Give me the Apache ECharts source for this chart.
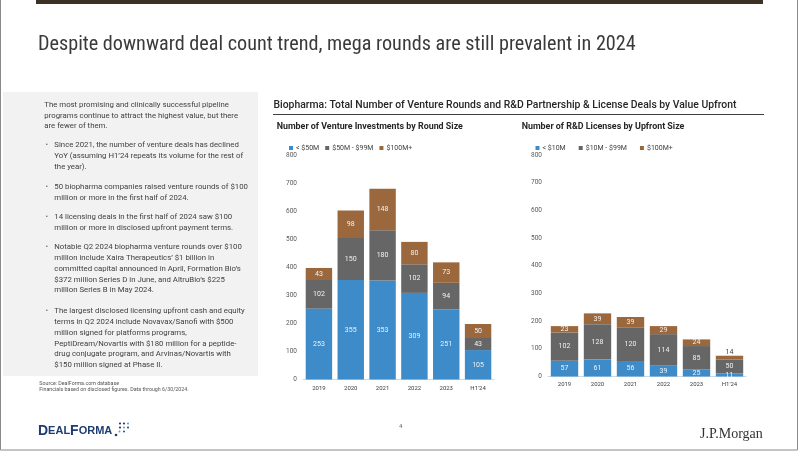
<!DOCTYPE html>
<html><head><meta charset="utf-8">
<script src="https://cdn.jsdelivr.net/npm/echarts@6/dist/echarts.min.js"></script>
<style>html,body{margin:0;padding:0;background:#fff;}#c{width:802px;height:452px;}</style>
</head><body><div id="c"></div>
<script>
// ---- data ----
const years = ['2019', '2020', '2021', '2022', '2023', "H1'24"];
const ventureSmall = [253, 355, 353, 309, 251, 105];   // < $50M
const ventureMid = [102, 150, 180, 102, 94, 43];        // $50M - $99M
const ventureBig = [43, 98, 148, 80, 73, 50];           // $100M+
const rndSmall = [57, 61, 56, 39, 25, 11];              // < $10M
const rndMid = [102, 128, 120, 114, 85, 50];            // $10M - $99M
const rndBig = [23, 39, 39, 29, 24, 14];                // $100M+
const yTicks = [0, 100, 200, 300, 400, 500, 600, 700, 800];
const ventureNames = ['< $50M', '$50M - $99M', '$100M+'];
const rndNames = ['< $10M', '$10M - $99M', '$100M+ '];

const titleText = 'Despite downward deal count trend, mega rounds are still prevalent in 2024';
const headingText = 'Biopharma: Total Number of Venture Rounds and R&D Partnership & License Deals by Value Upfront';
const sub1 = 'Number of Venture Investments by Round Size';
const sub2 = 'Number of R&D Licenses by Upfront Size';
const paras = [
  {bullet: false, lines: ['The most promising and clinically successful pipeline', 'programs continue to attract the highest value, but there', 'are fewer of them.']},
  {bullet: true, lines: ['Since 2021, the number of venture deals has declined', 'YoY (assuming H1\u201924 repeats its volume for the rest of', 'the year).']},
  {bullet: true, lines: ['50 biopharma companies raised venture rounds of $100', 'million or more in the first half of 2024.']},
  {bullet: true, lines: ['14 licensing deals in the first half of 2024 saw $100', 'million or more in disclosed upfront payment terms.']},
  {bullet: true, lines: ['Notable Q2 2024 biopharma venture rounds over $100', 'million include Xaira Therapeutics\u2019 $1 billion in', 'committed capital announced in April, Formation Bio\u2019s', '$372 million Series D in June, and AltruBio\u2019s $225', 'million Series B in May 2024.']},
  {bullet: true, lines: ['The largest disclosed licensing upfront cash and equity', 'terms in Q2 2024 include Novavax/Sanofi with $500', 'million signed for platforms programs,', 'PeptiDream/Novartis with $180 million for a peptide-', 'drug conjugate program, and Arvinas/Novartis with', '$150 million signed at Phase II.']}
];
const sourceLines = ['Source: DealForma.com database', 'Financials based on disclosed figures. Data through 6/30/2024.'];

// ---- styles ----
const BLUE = '#3d8bc9', GRAY = '#666666', BROWN = '#9b673c';
const FONT = 'Roboto, "Noto Sans", sans-serif';
const paraStart = [105, 145.5, 187.5, 217.5, 247.5, 311.5];
const LH = 10.7;

const graphics = [];
graphics.push({type: 'rect', shape: {x: 0.5, y: -2, width: 797, height: 452}, style: {fill: 'none', stroke: '#8a8a8a', lineWidth: 1}, silent: true});
graphics.push({type: 'rect', shape: {x: 36, y: 0, width: 727, height: 4}, style: {fill: '#3b3225'}});
graphics.push({type: 'text', x: 38, y: 45, style: {text: titleText, font: '20.2px "Liberation Sans Narrow", "Roboto Condensed", sans-serif', fill: '#3a3a3a', verticalAlign: 'middle'}});
graphics.push({type: 'rect', shape: {x: 3, y: 92, width: 255, height: 284}, style: {fill: '#f2f2f2'}});
paras.forEach((p, pi) => {
  if (p.bullet) graphics.push({type: 'text', x: 45.5, y: paraStart[pi], style: {text: '\u2022', font: '7.8px ' + FONT, fill: '#707070', verticalAlign: 'middle'}});
  p.lines.forEach((l, li) => {
    graphics.push({type: 'text', x: p.bullet ? 54.3 : 44.3, y: paraStart[pi] + li * LH, style: {text: l, font: '7.8px ' + FONT, fill: '#3f3f3f', verticalAlign: 'middle'}});
  });
});
sourceLines.forEach((l, i) => graphics.push({type: 'text', x: 39.3, y: 383.7 + i * 6.4, style: {text: l, font: '5.3px ' + FONT, fill: '#555', verticalAlign: 'middle'}}));
graphics.push({type: 'text', x: 273.5, y: 105, style: {text: headingText, font: '500 10.4px ' + FONT, fill: '#262626', verticalAlign: 'middle'}});
graphics.push({type: 'line', shape: {x1: 273, y1: 114.5, x2: 764, y2: 114.5}, style: {stroke: '#404040', lineWidth: 1}});
graphics.push({type: 'text', x: 276.7, y: 127, style: {text: sub1, font: 'bold 8.9px ' + FONT, fill: '#262626', verticalAlign: 'middle'}});
graphics.push({type: 'text', x: 521.7, y: 127, style: {text: sub2, font: 'bold 8.9px ' + FONT, fill: '#262626', verticalAlign: 'middle'}});
graphics.push({type: 'text', x: 399, y: 426, style: {text: '4', font: '6px ' + FONT, fill: '#666', verticalAlign: 'middle'}});
graphics.push({type: 'text', x: 700, y: 434.5, style: {text: 'J.P.Morgan', font: '14px "Liberation Serif", "DejaVu Serif", serif', fill: '#333', verticalAlign: 'middle'}});
graphics.push({type: 'text', x: 38, y: 431, style: {
  text: '{a|D}{b|EAL}{a|F}{b|ORMA}',
  verticalAlign: 'middle',
  rich: {a: {font: 'bold 14px "Liberation Sans", Arial, sans-serif', fill: '#1f3c73'}, b: {font: 'bold 11px "Liberation Sans", Arial, sans-serif', fill: '#1f3c73'}}
}});
[[116, 435, '#1f3c73', 1.3], [119.5, 431.5, '#5b9bd5', 1], [120, 427.5, '#1f3c73', 1.1], [120, 423.5, '#1f3c73', 1.1], [124, 423.5, '#1f3c73', 1.1], [128, 423.5, '#5b9bd5', 1], [124, 427.5, '#5b9bd5', 1], [128, 427.5, '#1f3c73', 1], [124, 431.5, '#1f3c73', 0.9]].forEach(d => {
  graphics.push({type: 'circle', shape: {cx: d[0], cy: d[1], r: d[3]}, style: {fill: d[2]}});
});

// ---- chart ----
const labelStyle = {show: true, position: 'inside', color: '#f2f2f2', fontSize: 7, fontFamily: FONT};
function mkSeries(name, data, color, xi) {
  return {name: name, type: 'bar', stack: 's' + xi, xAxisIndex: xi, yAxisIndex: xi, barCategoryGap: '17%',
    itemStyle: {color: color}, label: labelStyle, data: data, emphasis: {disabled: true}};
}
// segments too thin for an inside label get their label just above the bar
const rndBigData = rndBig.map(v => (v < 18 ? {value: v, label: {position: 'top', distance: 0, color: '#404040'}} : v));

function yAx(gi) {
  return {type: 'value', gridIndex: gi, min: yTicks[0], max: yTicks[yTicks.length - 1], interval: yTicks[1] - yTicks[0],
    axisLine: {show: false}, axisTick: {show: false}, splitLine: {show: false},
    axisLabel: {fontSize: 6.5, color: '#595959', fontFamily: FONT, margin: 6}};
}
function xAx(gi, margin) {
  return {type: 'category', gridIndex: gi, data: years,
    axisLine: {show: true, lineStyle: {color: '#cfd9e3', width: 1}}, axisTick: {show: false},
    axisLabel: {fontSize: 6, color: '#404040', fontFamily: FONT, margin: margin}};
}
const legendCommon = {itemWidth: 4, itemHeight: 4, icon: 'rect', itemGap: 6, selectedMode: false,
  textStyle: {fontSize: 7, color: '#404040', fontFamily: FONT, padding: [0, 0, 0, -2]}};

const chart = echarts.init(document.getElementById('c'), null, {renderer: 'canvas'});
chart.setOption({
  animation: false,
  backgroundColor: '#ffffff',
  graphic: graphics,
  legend: [
    Object.assign({}, legendCommon, {left: 284, top: 139.5, data: ventureNames}),
    Object.assign({}, legendCommon, {left: 530.5, top: 139.5, itemGap: 13, data: rndNames})
  ],
  grid: [
    {left: 303, top: 155.3, width: 191, height: 224.2},
    {left: 548, top: 155, width: 198, height: 221.5}
  ],
  xAxis: [xAx(0, 5.5), xAx(1, 4.5)],
  yAxis: [yAx(0), yAx(1)],
  series: [
    mkSeries(ventureNames[0], ventureSmall, BLUE, 0),
    mkSeries(ventureNames[1], ventureMid, GRAY, 0),
    mkSeries(ventureNames[2], ventureBig, BROWN, 0),
    mkSeries(rndNames[0], rndSmall, BLUE, 1),
    mkSeries(rndNames[1], rndMid, GRAY, 1),
    mkSeries(rndNames[2], rndBigData, BROWN, 1)
  ]
});
</script></body></html>
